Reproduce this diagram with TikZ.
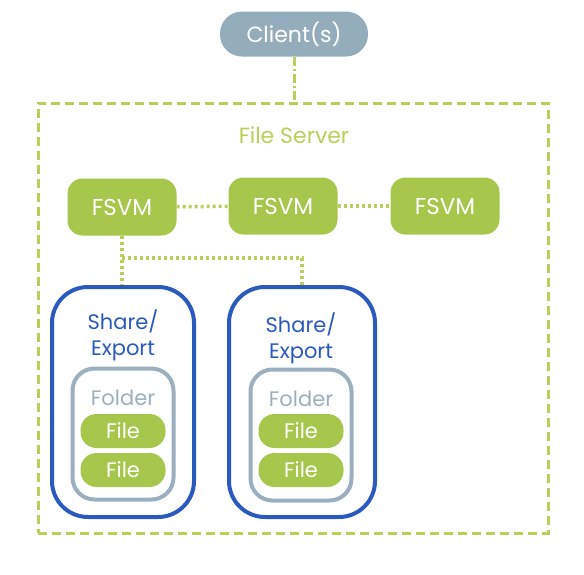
\documentclass[tikz,border=0pt]{standalone}
\usepackage{fontspec}
\setmainfont{Poppins}
\usetikzlibrary{positioning,calc}

\definecolor{fsgreen}{HTML}{A6C64C}
\definecolor{linegreen}{HTML}{B8D05A}
\definecolor{shareblue}{HTML}{2A5ABE}
\definecolor{foldergray}{HTML}{9BAFBE}
\definecolor{clientgray}{HTML}{94ADBD}

\begin{document}
\begin{tikzpicture}[
    x=1pt, y=-1pt,
    client/.style={rectangle, rounded corners=22pt, fill=clientgray, text=white, minimum width=148pt, minimum height=45pt, font=\fontsize{22}{26}\selectfont},
    fsvm/.style={rectangle, rounded corners=15pt, fill=fsgreen, text=white, minimum width=109pt, minimum height=57pt, font=\fontsize{23}{26}\selectfont},
    share/.style={draw=shareblue, line width=4pt, rectangle, rounded corners=36pt, minimum width=142pt, minimum height=230pt},
    folder/.style={draw=foldergray, line width=4pt, rectangle, rounded corners=22pt, minimum width=101pt, minimum height=131pt},
    file/.style={rectangle, rounded corners=16pt, fill=fsgreen, text=white, minimum width=85pt, minimum height=34pt, font=\fontsize{21}{24}\selectfont},
    boxlabel/.style={align=center, font=\fontsize{21}{26}\selectfont},
    dashline/.style={linegreen, line width=3pt, dash pattern=on 9pt off 5pt},
    dashdot/.style={linegreen, line width=3pt, dash pattern=on 9pt off 3pt on 2pt off 3pt},
    dotline/.style={linegreen, line width=3.5pt, dash pattern=on 3pt off 3pt}
]
    \useasboundingbox (0,0) rectangle (584,574);

    % 1. Client (top)
    \node[client] (client) at (294,34) {Client(s)};

    % 2. File server container
    \node[draw=linegreen, line width=3pt, dash pattern=on 9pt off 5pt, rectangle, minimum width=510pt, minimum height=430pt] (server) at (293,318) {};
    \node[text=linegreen, font=\fontsize{22}{26}\selectfont] (serverlabel) at (294,135) {File Server};

    % 3. FSVMs
    \node[fsvm] (fsvm1) at (122,207) {FSVM};
    \node[fsvm] (fsvm2) at (283,206) {FSVM};
    \node[fsvm] (fsvm3) at (445,206) {FSVM};

    % 4. Shares with folders and files
    \node[share] (share1) at (123,402) {};
    \node[share, minimum width=146pt] (share2) at (302,402) {};
    \node[boxlabel, text=shareblue] (sharelabel1) at (123,335) {Share/\\Export};
    \node[boxlabel, text=shareblue] (sharelabel2) at (301,338) {Share/\\Export};

    \node[folder] (folder1) at (123,434) {};
    \node[folder] (folder2) at (301,435) {};
    \node[boxlabel, text=foldergray] (folderlabel1) at (123,398) {Folder};
    \node[boxlabel, text=foldergray] (folderlabel2) at (301,399) {Folder};

    \node[file] (file1a) at (123,431) {File};
    \node[file] (file1b) at (123,470) {File};
    \node[file] (file2a) at (301,431) {File};
    \node[file] (file2b) at (301,470) {File};

    % 5. Connections
    \draw[dashdot] (client.south) -- (client.south |- server.north);
    \draw[dotline] (fsvm1) -- (fsvm2);
    \draw[dotline] (fsvm2) -- (fsvm3);
    \coordinate (split) at (fsvm1.south |- 0,258);
    \draw[dotline] (fsvm1.south) -- (fsvm1.south |- share1.north);
    \draw[dotline] (split) -| (share2.north);

\end{tikzpicture}
\end{document}
